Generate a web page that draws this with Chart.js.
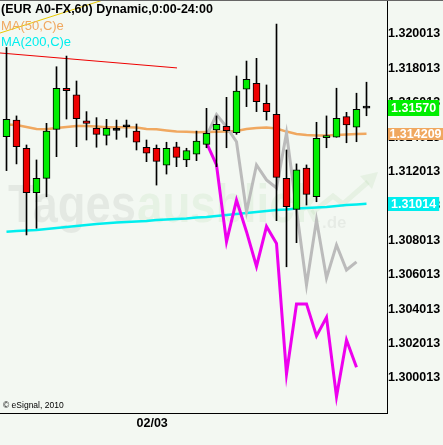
<!DOCTYPE html>
<html>
<head>
<meta charset="utf-8">
<script src="https://cdn.jsdelivr.net/npm/chart.js@4.4.1/dist/chart.umd.min.js"></script>
<style>
  html, body { margin: 0; padding: 0; background: #f3f8f2; }
  canvas { display: block; }
</style>
</head>
<body>
<canvas id="fxChart" width="443" height="445"></canvas>
<script>
// hourly candles, index 0..36
const opens  = [1.31404, 1.31501, 1.31337, 1.31079, 1.31162, 1.31447, 1.31686, 1.31647, 1.31496, 1.31453,
                1.31412, 1.31441, 1.31462, 1.31437, 1.31343, 1.31337, 1.31238, 1.31346, 1.31269, 1.31302,
                1.31360, 1.31443, 1.31465, 1.31428, 1.31680, 1.31715, 1.31598, 1.31534, 1.31162, 1.30982,
                1.31222, 1.31055, 1.31398, 1.31401, 1.31521, 1.31459, 1.31570];
const highs  = [1.31923, 1.31525, 1.31356, 1.31269, 1.31482, 1.31811, 1.31873, 1.31728, 1.31550, 1.31515,
                1.31505, 1.31501, 1.31501, 1.31478, 1.31385, 1.31356, 1.31372, 1.31372, 1.31337, 1.31437,
                1.31569, 1.31525, 1.31633, 1.31757, 1.31844, 1.31860, 1.31705, 1.32059, 1.31327, 1.31246,
                1.31240, 1.31488, 1.31525, 1.31686, 1.31546, 1.31657, 1.31721];
const lows   = [1.31207, 1.31246, 1.30833, 1.30872, 1.31055, 1.31288, 1.31507, 1.31346, 1.31385, 1.31343,
                1.31356, 1.31389, 1.31401, 1.31327, 1.31259, 1.31123, 1.31187, 1.31230, 1.31230, 1.31265,
                1.31340, 1.31230, 1.31340, 1.31418, 1.31579, 1.31550, 1.31501, 1.30916, 1.30648, 1.30788,
                1.31007, 1.31026, 1.31340, 1.31401, 1.31369, 1.31375, 1.31526];
const closes = [1.31505, 1.31346, 1.31079, 1.31162, 1.31437, 1.31686, 1.31672, 1.31509, 1.31482, 1.31418,
                1.31453, 1.31441, 1.31462, 1.31372, 1.31308, 1.31261, 1.31337, 1.31284, 1.31323, 1.31379,
                1.31424, 1.31476, 1.31439, 1.31670, 1.31738, 1.31608, 1.31550, 1.31168, 1.30997, 1.31211,
                1.31069, 1.31395, 1.31410, 1.31511, 1.31472, 1.31564, 1.31570];

const ma50  = [1.31475, 1.31472, 1.31461, 1.31449, 1.31447, 1.31455, 1.31461, 1.31466, 1.31466, 1.31464,
               1.31459, 1.31459, 1.31459, 1.31458, 1.31449, 1.31447, 1.31440, 1.31434, 1.31433, 1.31430,
               1.31432, 1.31433, 1.31434, 1.31437, 1.31449, 1.31455, 1.31457, 1.31452, 1.31434, 1.31420,
               1.31414, 1.31411, 1.31411, 1.31414, 1.31417, 1.31420, 1.314209];
const ma200 = [1.30852, 1.30856, 1.30859, 1.30862, 1.30868, 1.30873, 1.30879, 1.30885, 1.30891, 1.30897,
               1.30901, 1.30905, 1.30908, 1.30911, 1.30914, 1.30920, 1.30923, 1.30926, 1.30929, 1.30934,
               1.30937, 1.30943, 1.30949, 1.30955, 1.30961, 1.30966, 1.30972, 1.30978, 1.30981, 1.30987,
               1.30990, 1.30993, 1.30996, 1.31001, 1.31007, 1.31010, 1.31014];

// projection lines start at candle 20
const projStart = 20;
const pinkLine = [1.31368, 1.31240, 1.30794, 1.31036, 1.30852, 1.30650, 1.30882, 1.30784,
                  1.30025, 1.30432, 1.30432, 1.30246, 1.30354, 1.29893, 1.30222, 1.30064];
const grayLine = [1.31408, 1.31533, 1.31461, 1.31375, 1.30968, 1.31240, 1.31153, 1.31106,
                  1.31426, 1.30978, 1.30542, 1.30920, 1.30583, 1.30775, 1.30629, 1.30676];

// trend lines
const redX = [-0.65, 17.05];
const redY = [1.31891, 1.31804];
const yellowX = [-0.65, 9.65];
const yellowY = [1.32007, 1.32199];

const yTicks = [1.300013, 1.302013, 1.304013, 1.306013, 1.308013, 1.310013,
                1.312013, 1.314013, 1.316013, 1.318013, 1.320013];
const xTickPos = 13;
const xTickLabel = '02/03';

const FONT = '"Liberation Sans", Arial, sans-serif';
Chart.defaults.font.family = FONT;
Chart.defaults.color = '#000';

const idx = opens.map((_, i) => i);
const bodyColors = idx.map(i => closes[i] > opens[i] ? '#00ee00' : (closes[i] < opens[i] ? '#ee0000' : '#000'));
const projPoints = arr => arr.map((v, k) => ({ x: projStart + k, y: v }));

const backdrop = {
  id: 'backdrop',
  beforeDraw(chart) {
    const c = chart.ctx;
    c.save();
    c.fillStyle = '#f3f8f2';
    c.fillRect(0, 0, chart.width, chart.height);
    c.restore();
  },
  beforeDatasetsDraw(chart) {
    // faint watermark
    const c = chart.ctx;
    c.save();
    c.font = 'bold 54px ' + FONT;
    c.textBaseline = 'alphabetic';
    c.fillStyle = 'rgba(0,0,0,0.06)';
    c.fillText('Tages', 8, 222, 128);
    c.fillStyle = 'rgba(160,205,150,0.15)';
    c.fillText('ausblick', 137, 222, 183);
    c.font = 'bold 17px ' + FONT;
    c.fillStyle = 'rgba(0,0,0,0.05)';
    c.fillText('.de', 322, 228);
    c.strokeStyle = 'rgba(160,205,150,0.16)';
    c.lineWidth = 5;
    c.beginPath();
    c.moveTo(312, 213); c.lineTo(333, 196); c.lineTo(343, 204); c.lineTo(368, 182);
    c.stroke();
    c.fillStyle = 'rgba(160,205,150,0.16)';
    c.beginPath();
    c.moveTo(378, 172); c.lineTo(360, 176); c.lineTo(372, 189); c.closePath();
    c.fill();
    c.restore();
  }
};

function tagBox(c, y, text, bg, h) {
  c.font = 'bold 12.5px ' + FONT;
  const tw = c.measureText(text).width;
  const w = Math.min(tw + 6, 55);
  const pad = Math.max(1, Math.min(3, (55 - tw) / 2));
  c.fillStyle = bg;
  c.fillRect(388, Math.round(y - h / 2), w, h);
  c.fillStyle = '#fff';
  c.textAlign = 'left';
  c.textBaseline = 'middle';
  c.fillText(text, 388 + pad, y + 0.5, 443 - 389 - pad);
}

const overlay = {
  id: 'overlay',
  afterDraw(chart) {
    const c = chart.ctx;
    const ys = chart.scales.y;
    c.save();
    c.fillStyle = '#666';
    c.fillRect(0, 0, chart.width, 1);

    c.textAlign = 'left';
    c.textBaseline = 'middle';
    c.font = 'bold 12.5px ' + FONT;
    c.fillStyle = '#000';
    c.fillText('(EUR A0-FX,60) Dynamic,0:00-24:00', 1, 10);
    c.font = '13px ' + FONT;
    c.fillStyle = '#f0a860';
    c.fillText('MA(50,C)e', 1, 26);
    c.fillStyle = '#00eeee';
    c.fillText('MA(200,C)e', 1, 42);

    c.font = '8.5px ' + FONT;
    c.fillStyle = '#000';
    c.fillText('\u00a9 eSignal, 2010', 3, 406);

    const last = closes.length - 1;
    tagBox(c, ys.getPixelForValue(closes[last]), closes[last].toFixed(5), '#00ee00', 16);
    tagBox(c, ys.getPixelForValue(ma50[last]), ma50[last].toFixed(6), '#f0a860', 12);
    tagBox(c, ys.getPixelForValue(ma200[last]), ma200[last].toFixed(5), '#00eeee', 14);
    c.restore();
  }
};

const lineDefaults = { type: 'line', pointRadius: 0, tension: 0, fill: false };

new Chart(document.getElementById('fxChart'), {
  type: 'bar',
  data: {
    datasets: [
      {
        label: 'body', order: 0, grouped: false,
        data: idx.map(i => ({ x: i, y: [opens[i], closes[i]] })),
        backgroundColor: bodyColors, borderColor: '#000', borderWidth: 1,
        borderSkipped: false, barThickness: 7, minBarLength: 2
      },
      {
        label: 'wick', order: 1, grouped: false,
        data: idx.map(i => ({ x: i, y: [lows[i], highs[i]] })),
        backgroundColor: '#000', borderWidth: 0, barThickness: 1
      },
      Object.assign({ label: 'pink', order: 2, data: projPoints(pinkLine), borderColor: '#ee00ee', borderWidth: 3 }, lineDefaults),
      Object.assign({ label: 'gray', order: 3, data: projPoints(grayLine), borderColor: '#bbbbbb', borderWidth: 3 }, lineDefaults),
      Object.assign({ label: 'MA200', order: 4, data: idx.map(i => ({ x: i, y: ma200[i] })), borderColor: '#00eeee', borderWidth: 2.5 }, lineDefaults),
      Object.assign({ label: 'MA50', order: 5, data: idx.map(i => ({ x: i, y: ma50[i] })), borderColor: '#f0a860', borderWidth: 2.5 }, lineDefaults),
      Object.assign({ label: 'red', order: 6, data: redX.map((x, k) => ({ x: x, y: redY[k] })), borderColor: '#ee0000', borderWidth: 1 }, lineDefaults),
      Object.assign({ label: 'yellow', order: 7, data: yellowX.map((x, k) => ({ x: x, y: yellowY[k] })), borderColor: '#e8c800', borderWidth: 1 }, lineDefaults)
    ]
  },
  options: {
    responsive: false,
    animation: false,
    layout: { padding: { top: 1, left: 0, right: 0, bottom: 0 } },
    plugins: { legend: { display: false }, tooltip: { enabled: false } },
    scales: {
      x: {
        type: 'linear', min: -0.65, max: 38.05, offset: false,
        grid: { display: false, drawTicks: false },
        border: { display: true, color: '#000', width: 1 },
        ticks: {
          align: 'start', padding: 3, autoSkip: false, maxRotation: 0,
          font: { size: 12.5, weight: 'bold' }, color: '#000',
          callback: () => xTickLabel
        },
        afterBuildTicks: s => { s.ticks = [{ value: xTickPos }]; },
        afterFit: s => { s.height = 32; s.paddingLeft = 0; s.paddingRight = 0; }
      },
      y: {
        type: 'linear', position: 'right', min: 1.2979781, max: 1.3219316,
        grid: { display: false, drawTicks: false },
        border: { display: true, color: '#000', width: 1 },
        ticks: {
          padding: 1, autoSkip: false,
          font: { size: 12.5, weight: 'bold' }, color: '#000',
          callback: v => Number(v).toFixed(6)
        },
        afterBuildTicks: s => { s.ticks = yTicks.map(v => ({ value: v })); },
        afterFit: s => { s.width = 56; s.paddingTop = 0; s.paddingBottom = 0; }
      }
    }
  },
  plugins: [backdrop, overlay]
});
</script>
</body>
</html>
